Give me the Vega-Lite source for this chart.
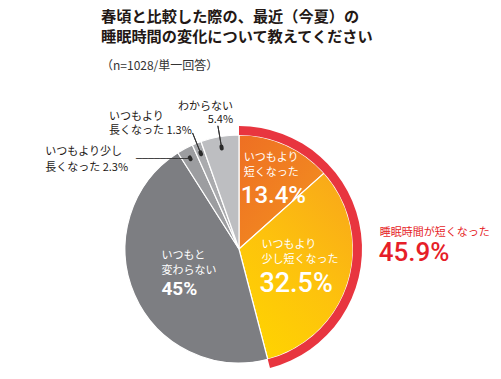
{
  "$schema": "https://vega.github.io/schema/vega-lite/v6.json",
  "autosize": "none",
  "width": 478,
  "height": 260,
  "padding": {"left": 0, "top": 119, "right": 23, "bottom": 0},
  "background": "#ffffff",
  "title": {
    "text": ["　春頃と比較した際の、最近（今夏）の", "睡眠時間の変化について教えてください"],
    "subtitle": "（n=1028/単一回答）",
    "anchor": "start",
    "frame": "group",
    "align": "left",
    "dx": 101,
    "offset": 29,
    "font": "Noto Sans CJK JP",
    "fontSize": 15.2,
    "fontWeight": "bold",
    "color": "#231815",
    "lineHeight": 19.5,
    "subtitleFont": "Noto Sans CJK JP",
    "subtitleFontSize": 12,
    "subtitleColor": "#333333",
    "subtitlePadding": 16
  },
  "data": {
    "values": [
      {"cat": "いつもより短くなった", "label": "いつもより\n短くなった", "value": 13.4, "ord": 1, "grp": "睡眠時間が短くなった"},
      {"cat": "いつもより少し短くなった", "label": "いつもより\n少し短くなった", "value": 32.5, "ord": 2, "grp": "睡眠時間が短くなった"},
      {"cat": "いつもと変わらない", "label": "いつもと\n変わらない", "value": 45, "ord": 3, "grp": "その他"},
      {"cat": "いつもより少し長くなった", "label": "いつもより少し\n長くなった 2.3%", "value": 2.3, "ord": 4, "grp": "その他"},
      {"cat": "いつもより長くなった", "label": "いつもより\n長くなった 1.3%", "value": 1.3, "ord": 5, "grp": "その他"},
      {"cat": "わからない", "label": "わからない\n5.4%", "value": 5.4, "ord": 6, "grp": "その他"}
    ]
  },
  "encoding": {
    "theta": {"field": "value", "type": "quantitative", "stack": true},
    "order": {"field": "ord", "type": "quantitative"},
    "detail": {"field": "cat", "type": "nominal"}
  },
  "layer": [
    {
      "mark": {"type": "arc", "radius": 114, "stroke": "#ffffff", "strokeWidth": 1.2},
      "encoding": {
        "color": {
          "condition": [
            {"test": "datum.ord === 1", "value": {"gradient": "linear", "x1": 0, "y1": 0, "x2": 1, "y2": 1, "stops": [{"offset": 0, "color": "#EE6F23"}, {"offset": 1, "color": "#F3931F"}]}},
            {"test": "datum.ord === 2", "value": {"gradient": "linear", "x1": 0.8, "y1": 0, "x2": 0.2, "y2": 1, "stops": [{"offset": 0, "color": "#F9A919"}, {"offset": 0.5, "color": "#FDC20D"}, {"offset": 1, "color": "#FFD400"}]}}
          ],
          "field": "cat",
          "type": "nominal",
          "scale": {
            "domain": ["いつもより短くなった", "いつもより少し短くなった", "いつもと変わらない", "いつもより少し長くなった", "いつもより長くなった", "わからない"],
            "range": ["#F07E22", "#FDC00F", "#7D7E82", "#9C9DA0", "#AAABAE", "#BDBEC1"]
          },
          "legend": null
        }
      }
    },
    {
      "transform": [{"aggregate": [{"op": "sum", "field": "value", "as": "total"}], "groupby": ["grp"]}],
      "mark": {"type": "arc", "radius": 123, "radius2": 114},
      "encoding": {
        "theta": {"field": "total", "type": "quantitative", "stack": true},
        "order": {"field": "grp", "type": "nominal", "sort": "descending"},
        "detail": {"field": "grp", "type": "nominal"},
        "color": {"condition": {"test": "datum.grp === '睡眠時間が短くなった'", "value": "#E8353F"}, "value": "transparent"}
      }
    },
    {
      "mark": {"type": "arc", "radius": 125, "radius2": 103, "padAngle": 1.2, "strokeWidth": 1, "fill": "transparent"},
      "encoding": {
        "stroke": {"condition": {"test": "datum.ord >= 5", "value": "#333333"}, "value": "transparent"}
      }
    },
    {
      "mark": {"type": "arc", "radius": 104, "radius2": 102, "padAngle": 1.5, "strokeWidth": 4, "strokeJoin": "round", "fill": "transparent"},
      "encoding": {
        "stroke": {"condition": {"test": "datum.ord >= 4", "value": "#2a2a2a"}, "value": "transparent"}
      }
    },
    {
      "mark": {"type": "text", "radius": 103, "align": "right", "baseline": "middle", "dy": 1, "font": "DejaVu Sans Mono", "fontSize": 10, "color": "#333333"},
      "encoding": {
        "text": {"condition": {"test": "datum.ord === 4", "value": "─────────"}, "value": ""}
      }
    },
    {
      "mark": {"type": "text", "radius": 85, "dx": -30, "dy": -13, "align": "left", "baseline": "middle", "lineBreak": "\n", "lineHeight": 15, "font": "Noto Sans CJK JP", "fontSize": 11, "color": "#ffffff"},
      "encoding": {"text": {"condition": {"test": "datum.ord === 1", "field": "label"}, "value": ""}}
    },
    {
      "mark": {"type": "text", "radius": 85, "dx": -33, "dy": 25, "align": "left", "baseline": "middle", "font": "Roboto", "fontWeight": 500, "fontSize": 24, "color": "#ffffff"},
      "encoding": {"text": {"condition": {"test": "datum.ord === 1", "field": "value", "type": "quantitative", "format": "$.1~f"}, "value": ""}}
    },
    {
      "mark": {"type": "text", "radius": 60, "dx": -35, "dy": -21, "align": "left", "baseline": "middle", "lineBreak": "\n", "lineHeight": 15, "font": "Noto Sans CJK JP", "fontSize": 11, "color": "#ffffff"},
      "encoding": {"text": {"condition": {"test": "datum.ord === 2", "field": "label"}, "value": ""}}
    },
    {
      "mark": {"type": "text", "radius": 60, "dx": -37, "dy": 18, "align": "left", "baseline": "middle", "font": "Roboto", "fontWeight": 500, "fontSize": 27, "color": "#ffffff"},
      "encoding": {"text": {"condition": {"test": "datum.ord === 2", "field": "value", "type": "quantitative", "format": "$.1~f"}, "value": ""}}
    },
    {
      "mark": {"type": "text", "radius": 65, "dx": -18, "dy": -19, "align": "left", "baseline": "middle", "lineBreak": "\n", "lineHeight": 15, "font": "Noto Sans CJK JP", "fontSize": 11, "color": "#ffffff"},
      "encoding": {"text": {"condition": {"test": "datum.ord === 3", "field": "label"}, "value": ""}}
    },
    {
      "mark": {"type": "text", "radius": 65, "dx": -18, "dy": 14, "align": "left", "baseline": "middle", "font": "Roboto", "fontWeight": "bold", "fontSize": 19, "color": "#ffffff"},
      "encoding": {"text": {"condition": {"test": "datum.ord === 3", "field": "value", "type": "quantitative", "format": "$.1~f"}, "value": ""}}
    },
    {
      "mark": {"type": "text", "radius": 103, "dx": -145, "dy": -6, "align": "left", "baseline": "middle", "lineBreak": "\n", "lineHeight": 16, "font": "Noto Sans CJK JP", "fontSize": 11, "color": "#231815"},
      "encoding": {"text": {"condition": {"test": "datum.ord === 4", "field": "label"}, "value": ""}}
    },
    {
      "mark": {"type": "text", "radius": 124, "dx": -84, "dy": -17, "align": "left", "baseline": "middle", "lineBreak": "\n", "lineHeight": 14, "font": "Noto Sans CJK JP", "fontSize": 11, "color": "#231815"},
      "encoding": {"text": {"condition": {"test": "datum.ord === 5", "field": "label"}, "value": ""}}
    },
    {
      "mark": {"type": "text", "radius": 124, "dx": 15, "dy": -20, "align": "right", "baseline": "middle", "lineBreak": "\n", "lineHeight": 13, "font": "Noto Sans CJK JP", "fontSize": 11, "color": "#231815"},
      "encoding": {"text": {"condition": {"test": "datum.ord === 6", "field": "label"}, "value": ""}}
    },
    {
      "transform": [{"aggregate": [{"op": "sum", "field": "value", "as": "total"}], "groupby": ["grp"]}],
      "mark": {"type": "text", "radius": 150, "dx": -8, "dy": 3, "align": "left", "baseline": "middle", "font": "Noto Sans CJK JP", "fontSize": 11, "color": "#E61E28"},
      "encoding": {
        "theta": {"field": "total", "type": "quantitative", "stack": true},
        "order": {"field": "grp", "type": "nominal", "sort": "descending"},
        "detail": {"field": "grp", "type": "nominal"},
        "text": {"condition": {"test": "datum.grp === '睡眠時間が短くなった'", "field": "grp"}, "value": ""}
      }
    },
    {
      "transform": [{"aggregate": [{"op": "sum", "field": "value", "as": "total"}], "groupby": ["grp"]}],
      "mark": {"type": "text", "radius": 150, "dx": -9, "dy": 23, "align": "left", "baseline": "middle", "font": "Roboto", "fontWeight": 500, "fontSize": 26, "color": "#E61E28"},
      "encoding": {
        "theta": {"field": "total", "type": "quantitative", "stack": true},
        "order": {"field": "grp", "type": "nominal", "sort": "descending"},
        "detail": {"field": "grp", "type": "nominal"},
        "text": {"condition": {"test": "datum.grp === '睡眠時間が短くなった'", "field": "total", "type": "quantitative", "format": "$.1~f"}, "value": ""}
      }
    }
  ],
  "config": {
    "view": {"stroke": null},
    "locale": {"number": {"decimal": ".", "thousands": ",", "grouping": [3], "currency": ["", "%"]}}
  }
}
